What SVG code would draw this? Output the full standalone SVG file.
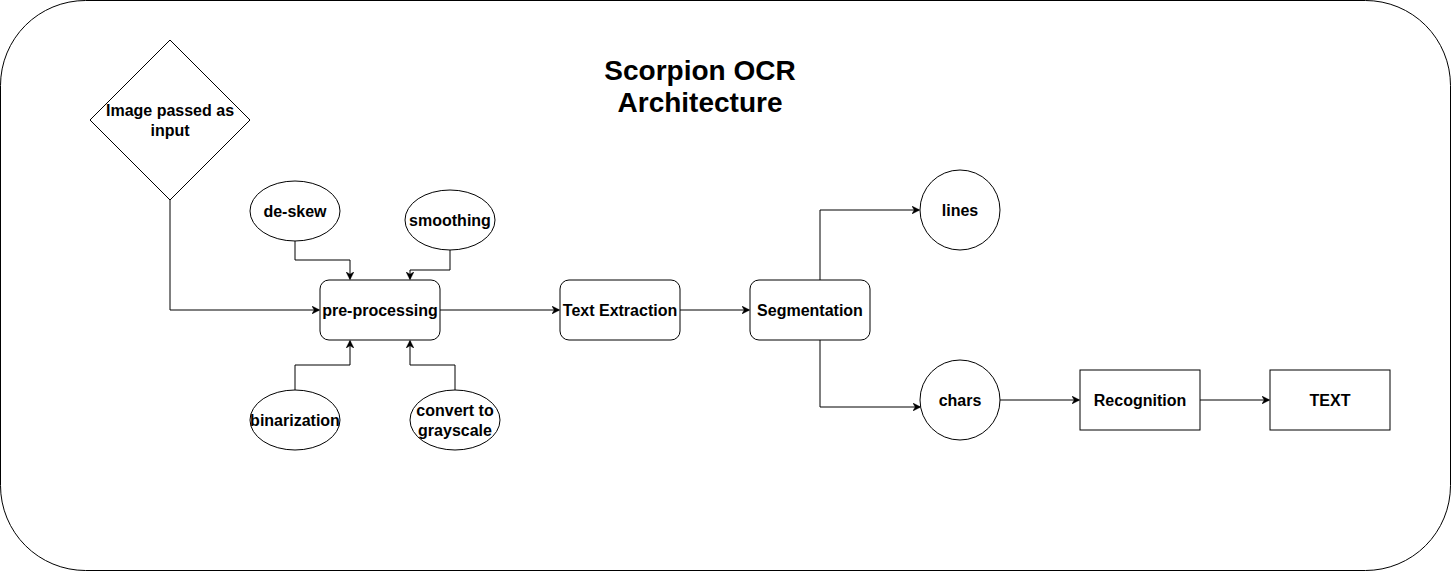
<svg xmlns="http://www.w3.org/2000/svg" width="1451" height="572" viewBox="0 0 1451 572">
<style>
.s{fill:#fff;stroke:#000;stroke-width:1}
.t{font-family:"Liberation Sans",Arial,sans-serif;font-weight:bold;font-size:16px;text-anchor:middle;fill:#000}
.ti{font-family:"Liberation Sans",Arial,sans-serif;font-weight:bold;font-size:28px;text-anchor:middle;fill:#000}
.c{fill:none;stroke:#000;stroke-width:1}
</style>
<defs>
<marker id="a" viewBox="0 0 10 10" refX="9" refY="5" markerWidth="8" markerHeight="8" markerUnits="userSpaceOnUse" orient="auto">
<path d="M0,0 L10,5 L0,10 L3,5 Z" fill="#000" stroke="#000" stroke-width="0.5"/>
</marker>
</defs>
<g id="container"><rect class="s" x="0.5" y="0.5" width="1450" height="570" rx="85" ry="85"/></g>
<g id="title"><text class="ti" x="700" y="80">Scorpion OCR</text><text class="ti" x="700" y="112">Architecture</text></g>
<g id="connectors">
<path class="c" d="M170,200 V310 H319" marker-end="url(#a)"/>
<path class="c" d="M295,241 V260 H350 V279" marker-end="url(#a)"/>
<path class="c" d="M450,250 V270 H410 V279" marker-end="url(#a)"/>
<path class="c" d="M295,390 V365 H350 V341" marker-end="url(#a)"/>
<path class="c" d="M455,390 V365 H410 V341" marker-end="url(#a)"/>
<path class="c" d="M440,310 H559" marker-end="url(#a)"/>
<path class="c" d="M680,310 H749" marker-end="url(#a)"/>
<path class="c" d="M820,280 V210 H919" marker-end="url(#a)"/>
<path class="c" d="M820,340 V407 H920" marker-end="url(#a)"/>
<path class="c" d="M1000,400 H1079" marker-end="url(#a)"/>
<path class="c" d="M1200,400 H1269" marker-end="url(#a)"/>
</g>
<g id="input"><polygon class="s" points="170,40 250,120 170,200 90,120"/><text class="t" x="170" y="116">Image passed as</text><text class="t" x="170" y="136">input</text></g>
<g id="deskew"><ellipse class="s" cx="295" cy="211" rx="45" ry="30"/><text class="t" x="295" y="217">de-skew</text></g>
<g id="smoothing"><ellipse class="s" cx="450" cy="220" rx="45" ry="30"/><text class="t" x="450" y="226">smoothing</text></g>
<g id="binarization"><ellipse class="s" cx="295" cy="420" rx="45" ry="30"/><text class="t" x="295" y="426">binarization</text></g>
<g id="grayscale"><ellipse class="s" cx="455" cy="420" rx="45" ry="30"/><text class="t" x="455" y="416">convert to</text><text class="t" x="455" y="436">grayscale</text></g>
<g id="preprocessing"><rect class="s" x="320" y="280" width="120" height="60" rx="9"/><text class="t" x="380" y="316">pre-processing</text></g>
<g id="textextraction"><rect class="s" x="560" y="280" width="120" height="60" rx="9"/><text class="t" x="620" y="316">Text Extraction</text></g>
<g id="segmentation"><rect class="s" x="750" y="280" width="120" height="60" rx="9"/><text class="t" x="810" y="316">Segmentation</text></g>
<g id="lines"><circle class="s" cx="960" cy="210" r="40"/><text class="t" x="960" y="216">lines</text></g>
<g id="chars"><circle class="s" cx="960" cy="400" r="40"/><text class="t" x="960" y="406">chars</text></g>
<g id="recognition"><rect class="s" x="1080" y="370" width="120" height="60"/><text class="t" x="1140" y="406">Recognition</text></g>
<g id="textout"><rect class="s" x="1270" y="370" width="120" height="60"/><text class="t" x="1330" y="406">TEXT</text></g>
</svg>
